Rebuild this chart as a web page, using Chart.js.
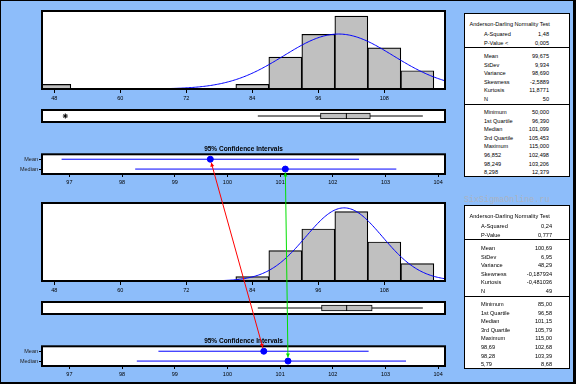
<!DOCTYPE html>
<html>
<head>
<meta charset="utf-8">
<script src="https://cdn.jsdelivr.net/npm/chart.js@4.4.1/dist/chart.umd.min.js"></script>
<style>
  html, body { margin: 0; padding: 0; }
  #wrap { position: relative; width: 576px; height: 384px; background: #8DBDFA; overflow: hidden; font-family: 'Liberation Sans', sans-serif; }
  #wrap canvas { position: absolute; }
  #edge { position: absolute; left: 0; top: 0; width: 576px; height: 384px; box-sizing: border-box;
          border-left: 1px solid #000; border-top: 1px solid #000; border-right: 3px solid #000; border-bottom: 2px solid #000; z-index: 5; }
  .panel { position: absolute; width: 106px; height: 164px; background: #fff; box-sizing: border-box; border: 1.5px solid #000; }
  .panel .t { position: absolute; height: 8px; line-height: 8px; font-size: 5.6px; color: #000; white-space: nowrap; }
  .panel .hr { position: absolute; left: 0; right: 0; height: 0; border-top: 1.5px solid #000; }
  #mark { position: absolute; left: 464px; top: 195px; font: 8.4px 'Liberation Mono', monospace; color: #AAB3C2; }
</style>
</head>
<body>
<div id="wrap">
  <canvas id="histA" width="430" height="96" style="left:30px;top:5px"></canvas>
  <canvas id="boxA" width="430" height="22" style="left:30px;top:105px"></canvas>
  <canvas id="ciA" width="460" height="46" style="left:0px;top:140px"></canvas>
  <canvas id="histB" width="430" height="96" style="left:30px;top:197px"></canvas>
  <canvas id="boxB" width="430" height="22" style="left:30px;top:297px"></canvas>
  <canvas id="ciB" width="460" height="46" style="left:0px;top:332px"></canvas>
  <div id="mark">SixSigmaOnline.ru</div>
  <canvas id="links" width="576" height="384" style="left:0;top:0;z-index:4"></canvas>
  <div id="edge"></div>
</div>
<script>
// histogram bins (width 6) and counts
const binCenters = [48, 84, 90, 96, 102, 108, 114];
const countsA = [1, 1, 7, 12, 16, 9, 4];
const countsB = [0, 1, 7, 12, 16, 9, 4];
const binWidth = 6;
const histTicks = [48, 60, 72, 84, 96, 108];
const ciTicks = [97, 98, 99, 100, 101, 102, 103, 104];
const ciRows = ['Mean', 'Median'];

// summary numbers (from the stats tables)
const meanA = 99.675, sdA = 9.934, nA = 50;
const meanB = 100.69, sdB = 6.95, nB = 49;
const boxA = [85, 96.39, 101.099, 105.453, 115];   // whisker lo, Q1, median, Q3, whisker hi
const outliersA = [50];
const boxB = [85, 96.58, 101.15, 105.79, 115];
const outliersB = [];
const meanCIA = [96.852, 102.498], medianA = 101.099, medianCIA = [98.249, 103.206];
const meanCIB = [98.69, 102.68], medianB = 101.15, medianCIB = [98.28, 103.39];

const statLabelsA = ['A-Squared', 'P-Value <', 'Mean', 'StDev', 'Variance', 'Skewness', 'Kurtosis', 'N',
  'Minimum', '1st Quartile', 'Median', '3rd Quartile', 'Maximum', '96,852', '98,249', '8,298'];
const statValuesA = ['1,48', '0,005', '99,675', '9,934', '98,690', '-2,5889', '11,8771', '50',
  '50,000', '96,390', '101,099', '105,453', '115,000', '102,498', '103,206', '12,379'];
const statLabelsB = ['A-Squared', 'P-Value', 'Mean', 'StDev', 'Variance', 'Skewness', 'Kurtosis', 'N',
  'Minimum', '1st Quartile', 'Median', '3rd Quartile', 'Maximum', '98,69', '98,28', '5,79'];
const statValuesB = ['0,24', '0,777', '100,69', '6,95', '48,29', '-0,187934', '-0,481036', '49',
  '85,00', '96,58', '101,15', '105,79', '115,00', '102,68', '103,39', '8,68'];

const histMin = 45.76, histMax = 119.03;
const ciMin = 96.48, ciMax = 104.13;

Chart.defaults.font.family = "'Liberation Sans', sans-serif";
Chart.defaults.color = '#000';

// white plot area + black frame
const frame = {
  id: 'frame',
  beforeDraw(c) {
    const a = c.chartArea, ctx = c.ctx;
    ctx.save();
    ctx.fillStyle = '#fff';
    ctx.fillRect(a.left, a.top, a.right - a.left, a.bottom - a.top);
    ctx.restore();
  },
  afterDraw(c) {
    const a = c.chartArea, ctx = c.ctx;
    ctx.save();
    ctx.strokeStyle = '#000';
    ctx.lineWidth = 2;
    ctx.strokeRect(a.left, a.top, a.right - a.left, a.bottom - a.top);
    ctx.restore();
  }
};

const base = {
  animation: false, responsive: false, events: [],
  plugins: { legend: { display: false }, tooltip: { enabled: false }, title: { display: false } }
};

function histChart(id, counts, mean, sd, n, yMax) {
  const curve = [];
  const k = n * binWidth / (sd * Math.sqrt(2 * Math.PI));
  for (let x = mean - 3.75 * sd; x <= histMax + 0.25; x += 0.25) {
    curve.push({ x: x, y: k * Math.exp(-0.5 * Math.pow((x - mean) / sd, 2)) });
  }
  const bars = [];
  binCenters.forEach((c, i) => { if (counts[i] > 0) bars.push({ x: c, y: counts[i] }); });
  return new Chart(document.getElementById(id), {
    type: 'bar',
    data: {
      datasets: [
        { type: 'line', data: curve, borderColor: '#0000FF', borderWidth: 1, pointRadius: 0, tension: 0, order: 0 },
        { type: 'bar', data: bars, backgroundColor: '#C0C0C0', borderColor: '#000', borderWidth: 1.2,
          barPercentage: 1, categoryPercentage: 1, order: 1 }
      ]
    },
    options: Object.assign({}, base, {
      layout: { padding: { left: 12, right: 15, top: 6, bottom: 0 } },
      scales: {
        x: {
          type: 'linear', min: histMin, max: histMax, offset: false,
          afterBuildTicks: s => { s.ticks = histTicks.map(v => ({ value: v })); },
          afterFit: s => { s.height = 12; },
          grid: { offset: false, drawOnChartArea: false, color: '#000', tickLength: 4 },
          border: { display: false },
          ticks: { font: { size: 5.5 }, padding: 2, maxRotation: 0, autoSkip: false }
        },
        y: { display: false, min: 0, max: yMax }
      }
    }),
    plugins: [frame]
  });
}

function boxChart(id, box, outliers) {
  return new Chart(document.getElementById(id), {
    type: 'bar',
    data: {
      labels: ['box'],
      datasets: [
        { type: 'scatter', data: [{ x: box[2], y: 'box' }], pointStyle: 'line', rotation: 90, radius: 3,
          borderColor: '#000', borderWidth: 1, order: 0 },
        { type: 'scatter', data: outliers.map(v => ({ x: v, y: 'box' })), pointStyle: 'star', radius: 2.5,
          borderColor: '#000', borderWidth: 1, order: 0 },
        { type: 'bar', data: [[box[1], box[3]]], backgroundColor: '#C0C0C0', borderColor: '#000',
          borderWidth: 1, borderSkipped: false, barThickness: 6, order: 1 },
        { type: 'line', data: [{ x: box[0], y: 'box' }, { x: box[4], y: 'box' }], borderColor: '#000',
          borderWidth: 1, pointRadius: 0, order: 2 }
      ]
    },
    options: Object.assign({}, base, {
      indexAxis: 'y',
      layout: { padding: { left: 12, right: 15, top: 2, bottom: 2 } },
      scales: {
        x: { type: 'linear', min: histMin, max: histMax, display: false },
        y: { type: 'category', display: false }
      }
    }),
    plugins: [frame]
  });
}

function ciChart(id, meanV, meanCI, medV, medCI) {
  return new Chart(document.getElementById(id), {
    type: 'bar',
    data: {
      labels: ciRows,
      datasets: [
        { type: 'scatter', data: [{ x: meanV, y: ciRows[0] }, { x: medV, y: ciRows[1] }], pointStyle: 'circle',
          radius: 3, backgroundColor: '#0000FF', borderColor: '#0000FF', borderWidth: 1, order: 0 },
        { type: 'line', data: [{ x: meanCI[0], y: ciRows[0] }, { x: meanCI[1], y: ciRows[0] }],
          borderColor: '#0000FF', borderWidth: 1, pointRadius: 0, order: 1 },
        { type: 'line', data: [{ x: medCI[0], y: ciRows[1] }, { x: medCI[1], y: ciRows[1] }],
          borderColor: '#0000FF', borderWidth: 1, pointRadius: 0, order: 1 }
      ]
    },
    options: Object.assign({}, base, {
      indexAxis: 'y',
      layout: { padding: { left: 0, right: 15, top: 5.5, bottom: 0 } },
      plugins: {
        legend: { display: false }, tooltip: { enabled: false },
        title: { display: true, text: '95% Confidence Intervals', fullSize: false,
                 font: { size: 6.5, weight: 'bold' }, padding: { top: 0, bottom: 1 } }
      },
      scales: {
        x: {
          type: 'linear', min: ciMin, max: ciMax,
          afterBuildTicks: s => { s.ticks = ciTicks.map(v => ({ value: v })); },
          afterFit: s => { s.height = 12; },
          grid: { drawOnChartArea: false, color: '#000', tickLength: 3 },
          border: { display: false },
          ticks: { font: { size: 5.5 }, padding: 2, maxRotation: 0, autoSkip: false }
        },
        y: {
          type: 'category',
          afterFit: s => { s.width = 42; },
          grid: { offset: false, drawOnChartArea: false, color: '#000', tickLength: 3 },
          border: { display: false },
          ticks: { font: { size: 5.5 }, padding: 1, color: '#222' }
        }
      }
    }),
    plugins: [frame]
  });
}

const hA = histChart('histA', countsA, meanA, sdA, nA, 17.1);
boxChart('boxA', boxA, outliersA);
const cA = ciChart('ciA', meanA, meanCIA, medianA, medianCIA);
const hB = histChart('histB', countsB, meanB, sdB, nB, 18);
boxChart('boxB', boxB, outliersB);
const cB = ciChart('ciB', meanB, meanCIB, medianB, medianCIB);

// stats tables
function panel(left, top, labels, values, labelX, valueR) {
  const p = document.createElement('div');
  p.className = 'panel';
  p.style.left = left + 'px';
  p.style.top = top + 'px';
  const add = (txt, y, x, right) => {
    const d = document.createElement('div');
    d.className = 't';
    d.textContent = txt;
    d.style.top = (y - 4) + 'px';
    if (right) d.style.right = x + 'px'; else d.style.left = x + 'px';
    p.appendChild(d);
  };
  add('Anderson-Darling Normality Test', 10, 4.5);
  const rowY = i => i < 2 ? 20 + i * 8.6 : (i < 8 ? 42 + (i - 2) * 8.6 : 98 + (i - 8) * 8.6);
  labels.forEach((l, i) => {
    add(l, rowY(i), labelX);
    add(values[i], rowY(i), valueR, true);
  });
  [34.4, 90.5].forEach(y => {
    const h = document.createElement('div');
    h.className = 'hr';
    h.style.top = (y - 1) + 'px';
    p.appendChild(h);
  });
  document.getElementById('wrap').appendChild(p);
}
panel(464, 13, statLabelsA, statValuesA, 19, 20);
panel(464, 205, statLabelsB, statValuesB, 16, 17);

// red (mean) and green (median) links between the two CI panels
function at(chart, id, x, row) {
  const el = document.getElementById(id);
  return [el.offsetLeft + chart.scales.x.getPixelForValue(x), el.offsetTop + chart.scales.y.getPixelForValue(row)];
}
function link(ctx, p, q, color) {
  const dx = q[0] - p[0], dy = q[1] - p[1], len = Math.hypot(dx, dy);
  const ux = dx / len, uy = dy / len;
  const a = [p[0] + ux * 3.5, p[1] + uy * 3.5], b = [q[0] - ux * 3.5, q[1] - uy * 3.5];
  ctx.strokeStyle = color; ctx.fillStyle = color; ctx.lineWidth = 1;
  ctx.beginPath(); ctx.moveTo(a[0], a[1]); ctx.lineTo(b[0], b[1]); ctx.stroke();
  const head = (tip, sx, sy) => {
    ctx.beginPath();
    ctx.moveTo(tip[0], tip[1]);
    ctx.lineTo(tip[0] + sx * 4 - sy * 2, tip[1] + sy * 4 + sx * 2);
    ctx.lineTo(tip[0] + sx * 4 + sy * 2, tip[1] + sy * 4 - sx * 2);
    ctx.closePath(); ctx.fill();
  };
  head(a, ux, uy);
  head(b, -ux, -uy);
}
const lctx = document.getElementById('links').getContext('2d');
link(lctx, at(cA, 'ciA', meanA, 0), at(cB, 'ciB', meanB, 0), '#FF0000');
link(lctx, at(cA, 'ciA', medianA, 1), at(cB, 'ciB', medianB, 1), '#00E000');
</script>
</body>
</html>
